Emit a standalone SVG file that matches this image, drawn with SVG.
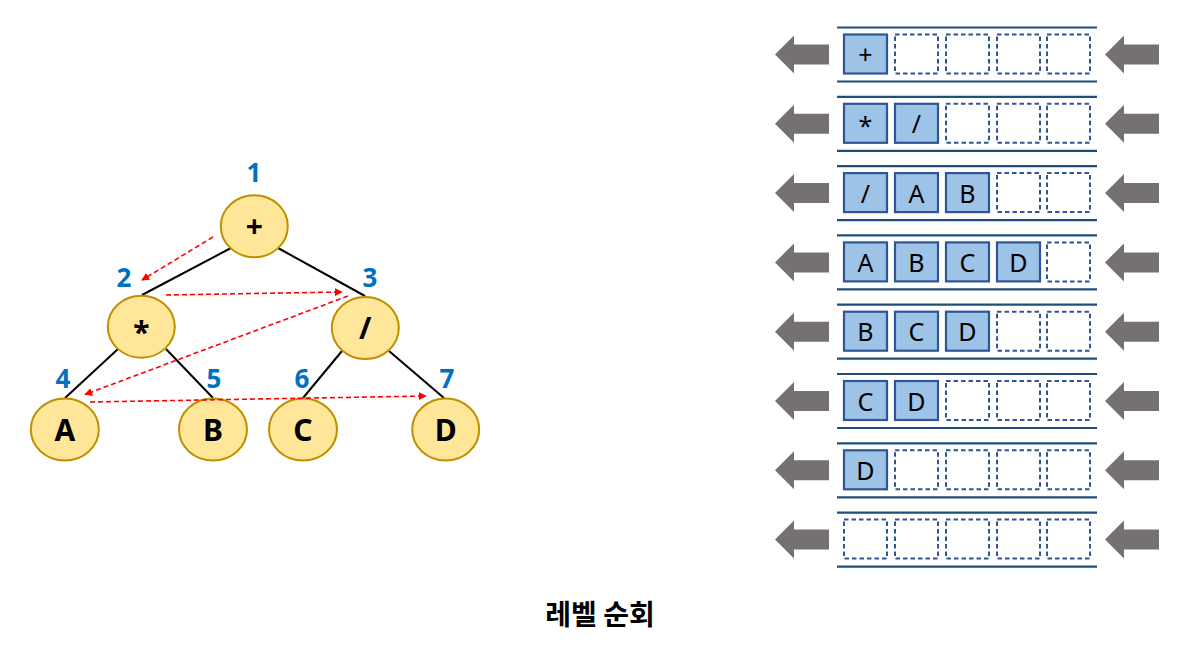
<svg xmlns="http://www.w3.org/2000/svg" xmlns:xlink="http://www.w3.org/1999/xlink" width="1196" height="649" viewBox="0 0 1196 649">
<style>
.node{fill:#FFE699;stroke:#BF9000;stroke-width:2}
.lbl{font-family:"Noto Sans","Noto Sans CJK KR",sans-serif;font-weight:bold;font-size:30px;fill:#000;text-anchor:middle}
.num{font-family:"Noto Sans","Noto Sans CJK KR",sans-serif;font-weight:bold;font-size:26px;fill:#0070C0;text-anchor:middle}
.edge{stroke:#000;stroke-width:2;fill:none}
.trav{stroke:#FF0000;stroke-width:1.6;stroke-dasharray:5,3;fill:none;marker-end:url(#rh)}
.rail{stroke:#1F4E79;stroke-width:2.2}
.full{fill:#9DC3E6;stroke:#2F5597;stroke-width:2.2}
.empty{fill:#fff;stroke:#2F5597;stroke-width:2;stroke-dasharray:4.5,3}
.q{font-family:"Noto Sans","Noto Sans CJK KR",sans-serif;font-size:25px;fill:#000;text-anchor:middle}
.arr{fill:#767171}
.title{font-family:"Noto Sans CJK KR","Noto Sans",sans-serif;font-weight:bold;font-size:28px;fill:#000;text-anchor:middle}
</style>
<defs>
<marker id="rh" viewBox="0 0 10 10" refX="9" refY="5" markerWidth="8" markerHeight="8" orient="auto" markerUnits="userSpaceOnUse">
<path d="M0,0 L10,5 L0,10 z" fill="#FF0000"/>
</marker>
<path id="la" d="M775,0 L794,-19 L794,-10 L829,-10 L829,10 L794,10 L794,19 Z"/>
<path id="ra" d="M1105,0 L1124,-19 L1124,-10 L1159,-10 L1159,10 L1124,10 L1124,19 Z"/>
<g id="frame">
<line class="rail" x1="837" y1="0" x2="1097" y2="0"/>
<line class="rail" x1="837" y1="54" x2="1097" y2="54"/>
<use xlink:href="#la" class="arr" y="27"/>
<use xlink:href="#ra" class="arr" y="27"/>
</g>
</defs>

<g id="edges">
<line class="edge" x1="231" y1="248" x2="142" y2="295"/>
<line class="edge" x1="278" y1="248" x2="365" y2="296"/>
<line class="edge" x1="118" y1="349" x2="65" y2="398"/>
<line class="edge" x1="166" y1="349" x2="213" y2="398"/>
<line class="edge" x1="342" y1="351" x2="303" y2="398"/>
<line class="edge" x1="389" y1="351" x2="444" y2="398"/>
</g>

<g id="nodes">
<g id="n1"><ellipse class="node" cx="254.3" cy="226.2" rx="33.5" ry="31"/><text class="lbl" x="254.3" y="237">+</text></g>
<g id="n2"><ellipse class="node" cx="141.3" cy="326.7" rx="33.5" ry="31"/><text class="lbl" x="141.3" y="343">*</text></g>
<g id="n3"><ellipse class="node" cx="365.3" cy="328" rx="33.5" ry="31"/><text class="lbl" x="365.3" y="339">/</text></g>
<g id="n4"><ellipse class="node" cx="64.8" cy="429.5" rx="34" ry="31"/><text class="lbl" x="64.8" y="440.5">A</text></g>
<g id="n5"><ellipse class="node" cx="213" cy="429.5" rx="34" ry="31"/><text class="lbl" x="213" y="440.5">B</text></g>
<g id="n6"><ellipse class="node" cx="303" cy="429.5" rx="34" ry="31"/><text class="lbl" x="303" y="440.5">C</text></g>
<g id="n7"><ellipse class="node" cx="445.7" cy="429.5" rx="33.5" ry="31"/><text class="lbl" x="445.7" y="440.5">D</text></g>
</g>

<g id="numbers">
<text class="num" x="254" y="182">1</text>
<text class="num" x="124" y="287">2</text>
<text class="num" x="370" y="287">3</text>
<text class="num" x="63" y="388">4</text>
<text class="num" x="214" y="388">5</text>
<text class="num" x="302" y="388">6</text>
<text class="num" x="447" y="388">7</text>
</g>

<g id="traversal">
<line class="trav" x1="213" y1="237" x2="142" y2="280"/>
<line class="trav" x1="166" y1="295" x2="342" y2="292"/>
<line class="trav" x1="348" y1="296" x2="85" y2="394.5"/>
<line class="trav" x1="90" y1="402" x2="426" y2="396"/>
</g>

<g id="queue1" transform="translate(0,27.5)">
<use xlink:href="#frame"/>
<rect class="full" x="844" y="7" width="43" height="39"/><text class="q" x="865.5" y="36">+</text>
<rect class="empty" x="895" y="7" width="43" height="39"/>
<rect class="empty" x="946" y="7" width="43" height="39"/>
<rect class="empty" x="997" y="7" width="43" height="39"/>
<rect class="empty" x="1047" y="7" width="43" height="39"/>
</g>
<g id="queue2" transform="translate(0,96.8)">
<use xlink:href="#frame"/>
<rect class="full" x="844" y="7" width="43" height="39"/><text class="q" x="865.5" y="38">*</text>
<rect class="full" x="895" y="7" width="43" height="39"/><text class="q" x="916.5" y="36.5">/</text>
<rect class="empty" x="946" y="7" width="43" height="39"/>
<rect class="empty" x="997" y="7" width="43" height="39"/>
<rect class="empty" x="1047" y="7" width="43" height="39"/>
</g>
<g id="queue3" transform="translate(0,166.1)">
<use xlink:href="#frame"/>
<rect class="full" x="844" y="7" width="43" height="39"/><text class="q" x="865.5" y="36.5">/</text>
<rect class="full" x="895" y="7" width="43" height="39"/><text class="q" x="916.5" y="36.5">A</text>
<rect class="full" x="946" y="7" width="43" height="39"/><text class="q" x="967.5" y="36.5">B</text>
<rect class="empty" x="997" y="7" width="43" height="39"/>
<rect class="empty" x="1047" y="7" width="43" height="39"/>
</g>
<g id="queue4" transform="translate(0,235.4)">
<use xlink:href="#frame"/>
<rect class="full" x="844" y="7" width="43" height="39"/><text class="q" x="865.5" y="36.5">A</text>
<rect class="full" x="895" y="7" width="43" height="39"/><text class="q" x="916.5" y="36.5">B</text>
<rect class="full" x="946" y="7" width="43" height="39"/><text class="q" x="967.5" y="36.5">C</text>
<rect class="full" x="997" y="7" width="43" height="39"/><text class="q" x="1018.5" y="36.5">D</text>
<rect class="empty" x="1047" y="7" width="43" height="39"/>
</g>
<g id="queue5" transform="translate(0,304.7)">
<use xlink:href="#frame"/>
<rect class="full" x="844" y="7" width="43" height="39"/><text class="q" x="865.5" y="36.5">B</text>
<rect class="full" x="895" y="7" width="43" height="39"/><text class="q" x="916.5" y="36.5">C</text>
<rect class="full" x="946" y="7" width="43" height="39"/><text class="q" x="967.5" y="36.5">D</text>
<rect class="empty" x="997" y="7" width="43" height="39"/>
<rect class="empty" x="1047" y="7" width="43" height="39"/>
</g>
<g id="queue6" transform="translate(0,374)">
<use xlink:href="#frame"/>
<rect class="full" x="844" y="7" width="43" height="39"/><text class="q" x="865.5" y="36.5">C</text>
<rect class="full" x="895" y="7" width="43" height="39"/><text class="q" x="916.5" y="36.5">D</text>
<rect class="empty" x="946" y="7" width="43" height="39"/>
<rect class="empty" x="997" y="7" width="43" height="39"/>
<rect class="empty" x="1047" y="7" width="43" height="39"/>
</g>
<g id="queue7" transform="translate(0,443.3)">
<use xlink:href="#frame"/>
<rect class="full" x="844" y="7" width="43" height="39"/><text class="q" x="865.5" y="36.5">D</text>
<rect class="empty" x="895" y="7" width="43" height="39"/>
<rect class="empty" x="946" y="7" width="43" height="39"/>
<rect class="empty" x="997" y="7" width="43" height="39"/>
<rect class="empty" x="1047" y="7" width="43" height="39"/>
</g>
<g id="queue8" transform="translate(0,512.6)">
<use xlink:href="#frame"/>
<rect class="empty" x="844" y="7" width="43" height="39"/>
<rect class="empty" x="895" y="7" width="43" height="39"/>
<rect class="empty" x="946" y="7" width="43" height="39"/>
<rect class="empty" x="997" y="7" width="43" height="39"/>
<rect class="empty" x="1047" y="7" width="43" height="39"/>
</g>

<text class="title" x="600" y="625">레벨 순회</text>
</svg>
